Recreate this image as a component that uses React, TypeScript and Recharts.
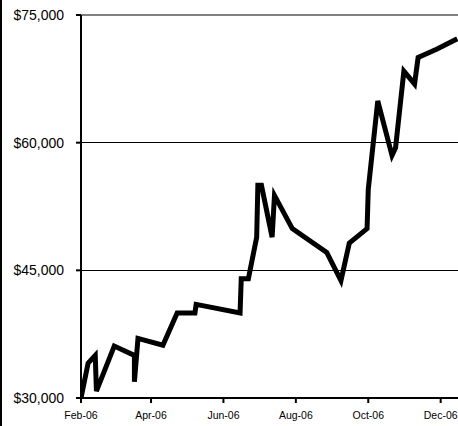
import React from "react";
import { LineChart, Line, XAxis, YAxis, CartesianGrid, ReferenceLine } from "recharts";

const dates = [
  "2006-02-01", "2006-02-07", "2006-02-13", "2006-02-14", "2006-03-01",
  "2006-03-18", "2006-03-18", "2006-03-21", "2006-04-11", "2006-04-23",
  "2006-05-08", "2006-05-09", "2006-06-15", "2006-06-16", "2006-06-22",
  "2006-06-29", "2006-06-30", "2006-07-03", "2006-07-12", "2006-07-14",
  "2006-07-29", "2006-08-27", "2006-09-08", "2006-09-15", "2006-09-30",
  "2006-10-01", "2006-10-09", "2006-10-21", "2006-10-24", "2006-10-31",
  "2006-11-09", "2006-11-12", "2006-11-28", "2006-12-15",
];
const values = [
  30000, 34100, 35000, 30800, 36100,
  35000, 31900, 37000, 36200, 40000,
  40000, 41000, 40000, 44000, 44000,
  48900, 55000, 55000, 48900, 53800,
  49900, 47100, 43800, 48200, 49900,
  54500, 64900, 58500, 59400, 68400,
  66900, 70000, 71000, 72200,
];
const tickDates = ["2006-02-01", "2006-04-01", "2006-06-01", "2006-08-01", "2006-10-01", "2006-12-01"];
const tickLabels = ["Feb-06", "Apr-06", "Jun-06", "Aug-06", "Oct-06", "Dec-06"];
const yTicks = [30000, 45000, 60000, 75000];
const domainStart = "2006-02-01";
const domainEnd = "2006-12-15";

const DAY = 86400000;
const toDay = (s: string) => {
  const [y, m, d] = s.split("-").map(Number);
  return (Date.UTC(y, m - 1, d) - Date.UTC(2006, 1, 1)) / DAY;
};

const data = dates.map((d, i) => ({ t: toDay(d), v: values[i] }));
const xTicks = tickDates.map(toDay);
const font = "'Liberation Sans', Arial, sans-serif";

export default function App() {
  return (
    <div style={{ position: "absolute", left: 0, top: 0, width: 458, height: 426, background: "#fff" }}>
      <div style={{ position: "absolute", left: 0, top: 0, width: 2, height: 426, background: "#000" }} />
      <LineChart
        width={458}
        height={426}
        data={data}
        margin={{ top: 15, right: 0, bottom: 0, left: 0 }}
        style={{ fontFamily: font }}
      >
        <CartesianGrid vertical={false} stroke="#000" strokeWidth={1} shapeRendering="crispEdges" />
        <XAxis
          dataKey="t"
          type="number"
          scale="linear"
          domain={[toDay(domainStart), toDay(domainEnd) + 0.6]}
          ticks={xTicks}
          tickFormatter={(v: number) => tickLabels[xTicks.indexOf(v)] ?? ""}
          height={28}
          axisLine={{ stroke: "#000", strokeWidth: 2 }}
          tickLine={{ stroke: "#000", strokeWidth: 2 }}
          tickSize={5}
          tickMargin={9}
          tick={{ fontSize: 10.5, fill: "#000", fontFamily: font }}
          interval={0}
          allowDataOverflow
        />
        <YAxis
          type="number"
          domain={[30000, 75000]}
          ticks={yTicks}
          tickFormatter={(v: number) => "$" + v.toLocaleString("en-US")}
          width={81}
          axisLine={{ stroke: "#000", strokeWidth: 2 }}
          tickLine={{ stroke: "#000", strokeWidth: 2 }}
          tickSize={5}
          tickMargin={12}
          tick={{ fontSize: 14, fill: "#000", fontFamily: font }}
          interval={0}
        />
        <ReferenceLine y={75000} stroke="#808080" strokeWidth={2} />
        <Line
          type="linear"
          dataKey="v"
          stroke="#000"
          strokeWidth={5}
          dot={false}
          isAnimationActive={false}
        />
      </LineChart>
    </div>
  );
}
